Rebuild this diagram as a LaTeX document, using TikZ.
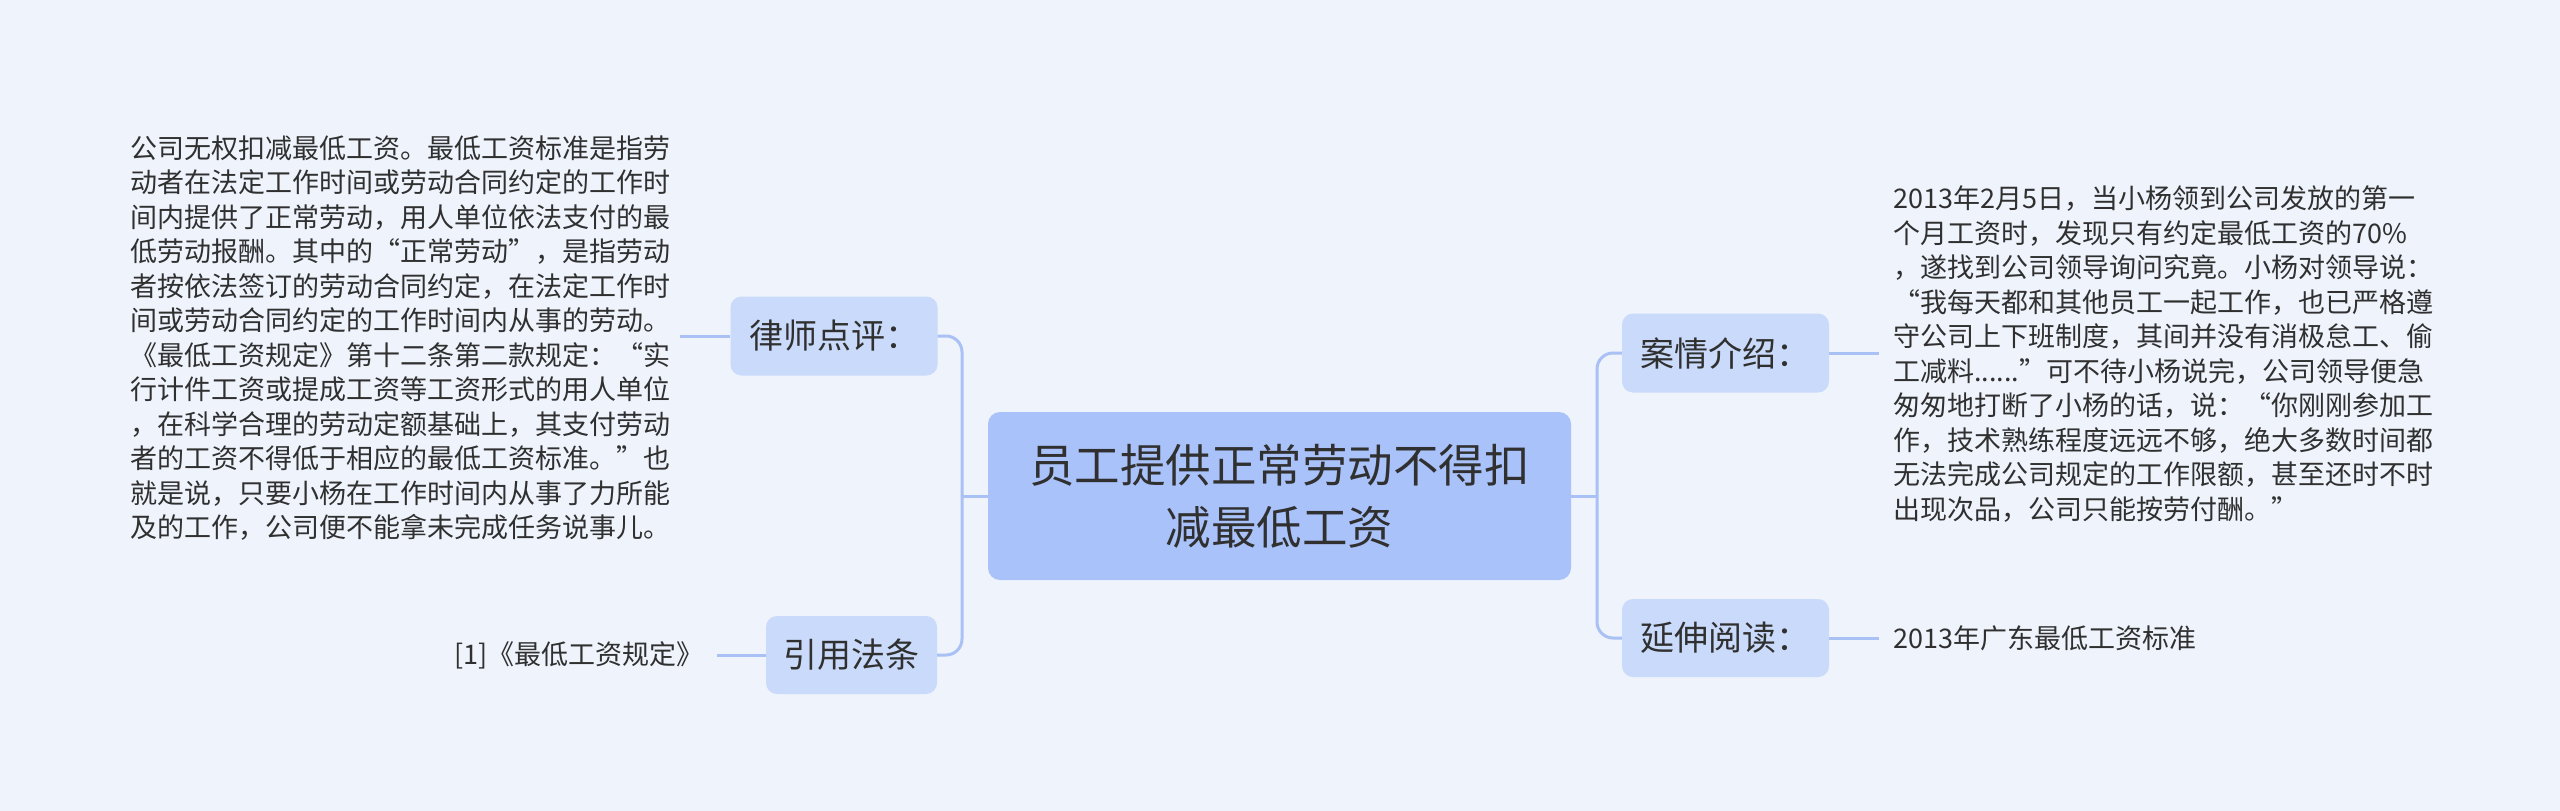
\documentclass[tikz,border=0pt]{standalone}
\usepackage{fontspec}
\setmainfont{Noto Sans CJK SC}
\definecolor{bgc}{HTML}{EEF3FC}
\definecolor{mainfill}{HTML}{A9C2FA}
\definecolor{subfill}{HTML}{CADAFA}
\definecolor{linec}{HTML}{A9C1F4}
\definecolor{txt}{HTML}{303030}
\begin{document}
\begin{tikzpicture}[x=1pt,y=-1pt,
  mainbox/.style={fill=mainfill, rounded corners=12pt, minimum width=583pt, minimum height=168pt,
    align=center, text=txt, inner sep=0pt, font={\fontsize{45.5}{62}\selectfont}},
  subbox/.style={fill=subfill, rounded corners=11pt, minimum width=207pt, minimum height=79pt,
    text=txt, inner sep=0pt, font={\fontsize{34}{40}\selectfont}},
  bodytext/.style={text=txt, align=left, inner ysep=0pt, font={\fontsize{27}{34.5}\selectfont}},
  conn/.style={draw=linec, line width=3pt},
  trunk/.style={draw=linec, line width=3pt, rounded corners=16pt}]
\useasboundingbox (0,0) rectangle (2560,811);
\fill[bgc] (0,0) rectangle (2560,811);

% nodes
\node[mainbox] (root) at (1279.5,496) {员工提供正常劳动不得扣\\减最低工资};
\node[subbox] (lawyer) at (834,336) {律师点评：};
\node[subbox, minimum width=171pt, minimum height=78pt] (cite) at (851.5,655) {引用法条};
\node[subbox] (case) at (1725.5,353) {案情介绍：};
\node[subbox, minimum height=78pt] (read) at (1725.5,638) {延伸阅读：};

\node[bodytext, anchor=west, inner xsep=10pt] (lawtext) at (120,338) {公司无权扣减最低工资。最低工资标准是指劳\\
动者在法定工作时间或劳动合同约定的工作时\\
间内提供了正常劳动，用人单位依法支付的最\\
低劳动报酬。其中的“正常劳动”，是指劳动\\
者按依法签订的劳动合同约定，在法定工作时\\
间或劳动合同约定的工作时间内从事的劳动。\\
《最低工资规定》第十二条第二款规定：“实\\
行计件工资或提成工资等工资形式的用人单位\\
，在科学合理的劳动定额基础上，其支付劳动\\
者的工资不得低于相应的最低工资标准。”也\\
就是说，只要小杨在工作时间内从事了力所能\\
及的工作，公司便不能拿未完成任务说事儿。};

\node[bodytext, anchor=east, inner xsep=13pt] (citetext) at (717,655) {[1]《最低工资规定》};

\node[bodytext, anchor=west, inner xsep=14pt] (casetext) at (1879,354) {2013年2月5日，当小杨领到公司发放的第一\\
个月工资时，发现只有约定最低工资的70\%\\
，遂找到公司领导询问究竟。小杨对领导说：\\
“我每天都和其他员工一起工作，也已严格遵\\
守公司上下班制度，其间并没有消极怠工、偷\\
工减料......”可不待小杨说完，公司领导便急\\
匆匆地打断了小杨的话，说：“你刚刚参加工\\
作，技术熟练程度远远不够，绝大多数时间都\\
无法完成公司规定的工作限额，甚至还时不时\\
出现次品，公司只能按劳付酬。”};

\node[bodytext, anchor=west, inner xsep=14pt] (readtext) at (1879,638) {2013年广东最低工资标准};

% junctions
\coordinate (LJ) at (962,496);
\coordinate (RJ) at (1597,496);

% connectors
\draw[conn] (root.west) -- (LJ);
\draw[trunk] (lawyer.east) -| (LJ);
\draw[trunk] (cite.east) -| (LJ);
\draw[conn] (root.east) -- (RJ);
\draw[trunk] (case.west) -| (RJ);
\draw[trunk] (read.west) -| (RJ);

\draw[conn] (lawyer.west) -- (lawyer.west -| lawtext.east);
\draw[conn] (cite.west) -- (citetext.east);
\draw[conn] (case.east) -- (case.east -| casetext.west);
\draw[conn] (read.east) -- (readtext.west);
\end{tikzpicture}
\end{document}
